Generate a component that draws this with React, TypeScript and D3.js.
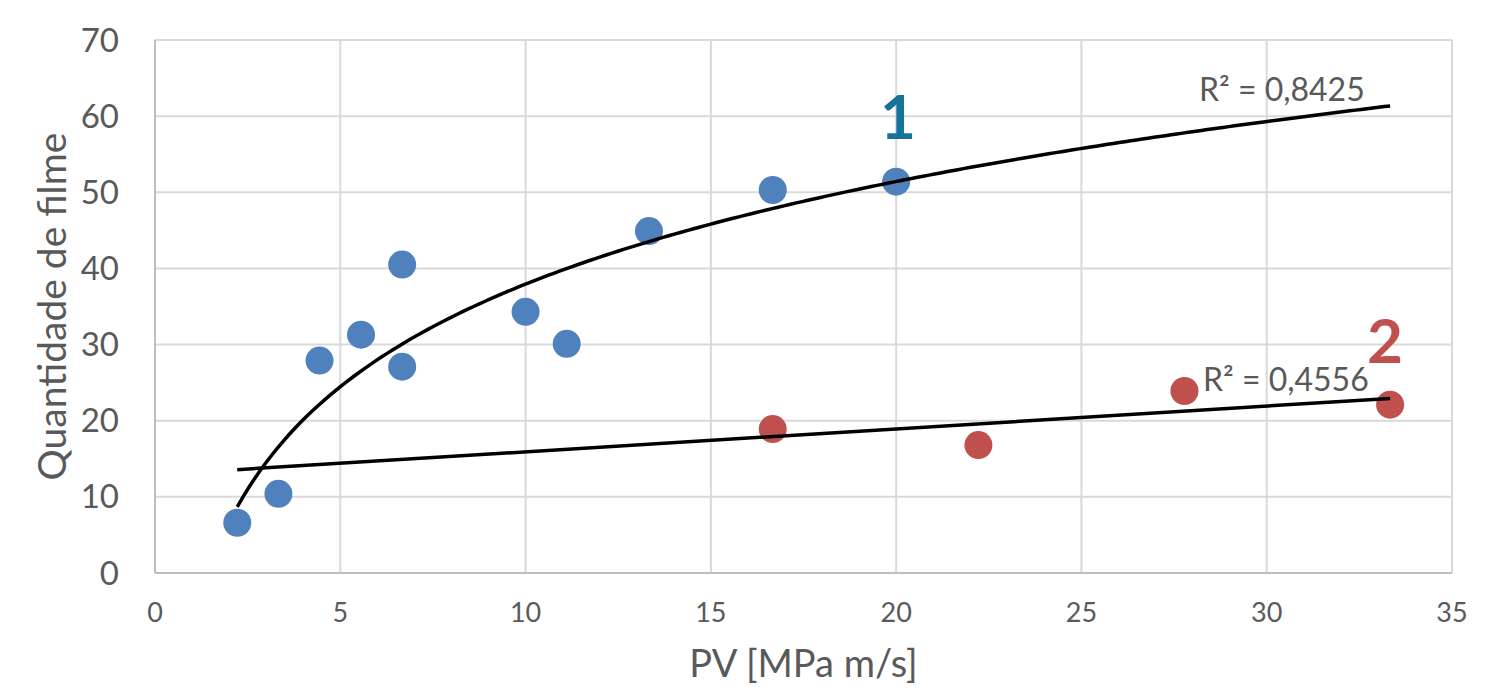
import React from 'react';
import * as d3 from 'd3';

// series 1 (blue) and series 2 (red)
const pvSerie1 = [2.22, 3.33, 4.44, 5.56, 6.67, 6.67, 10.0, 11.11, 13.33, 16.67, 20.0];
const filmeSerie1 = [6.6, 10.4, 27.9, 31.3, 40.5, 27.1, 34.3, 30.1, 44.9, 50.3, 51.4];
const pvSerie2 = [16.67, 22.22, 27.78, 33.33];
const filmeSerie2 = [18.9, 16.8, 23.9, 22.1];

const xTicks = [0, 5, 10, 15, 20, 25, 30, 35];
const yTicks = [0, 10, 20, 30, 40, 50, 60, 70];
const trendStart = 2.22;
const trendEnd = 33.33;
const r2Labels = ['R² = 0,8425', 'R² = 0,4556'];

const W = 1500, H = 690;
const margin = {top: 40, right: 48, bottom: 117, left: 155};

// least squares y = a*f(x) + b
function fit(xs: number[], ys: number[], f: (v: number) => number) {
    const t = xs.map(f);
    const mx = d3.mean(t)!, my = d3.mean(ys)!;
    let sxy = 0, sxx = 0;
    t.forEach((v, i) => { sxy += (v - mx) * (ys[i] - my); sxx += (v - mx) * (v - mx); });
    const a = sxy / sxx;
    const b = my - a * mx;
    return (x: number) => a * f(x) + b;
}

export default function App() {
    const x = d3.scaleLinear().domain([0, 35]).range([margin.left, W - margin.right]);
    const y = d3.scaleLinear().domain([0, 70]).range([H - margin.bottom, margin.top]);

    const logFit = fit(pvSerie1, filmeSerie1, Math.log);
    const linFit = fit(pvSerie2, filmeSerie2, v => v);

    const samples = d3.range(0, 201).map(i => trendStart + (trendEnd - trendStart) * i / 200);
    const line = d3.line<number>().x(d => x(d[0])).y(d => y(d[1]));
    const logPath = line(samples.map(s => [s, logFit(s)]) as any);
    const linPath = line([[trendStart, linFit(trendStart)], [trendEnd, linFit(trendEnd)]] as any);

    const font = 'Lato, "Open Sans", sans-serif';
    const grey = '#595959';

    return (
        <svg width={W} height={H} style={{position: 'absolute', left: 0, top: 0, background: '#fff'}}
             fontFamily={font}>
            <g>
                {xTicks.slice(1).map(t => (
                    <line key={'gx' + t} x1={x(t)} x2={x(t)} y1={y(0)} y2={y(70)} stroke="#d9d9d9" strokeWidth={2}/>
                ))}
                {yTicks.slice(1).map(t => (
                    <line key={'gy' + t} x1={x(0)} x2={x(35)} y1={y(t)} y2={y(t)} stroke="#d9d9d9" strokeWidth={2}/>
                ))}
                <line x1={x(0)} x2={x(0)} y1={y(0)} y2={y(70)} stroke="#bfbfbf" strokeWidth={2}/>
                <line x1={x(0)} x2={x(35)} y1={y(0)} y2={y(0)} stroke="#bfbfbf" strokeWidth={2}/>
            </g>
            <g fill={grey}>
                {yTicks.map(t => (
                    <text key={'ty' + t} x={119} y={y(t)} dy="0.35em" textAnchor="end" fontSize={33}>{t}</text>
                ))}
                {xTicks.map(t => (
                    <text key={'tx' + t} x={x(t)} y={613} dy="0.35em" textAnchor="middle" fontSize={27}>{t}</text>
                ))}
                <text transform={`translate(52, ${(y(0) + y(70)) / 2}) rotate(-90)`} textAnchor="middle"
                      dy="0.35em" fontSize={39}>Quantidade de filme</text>
                <text x={(x(0) + x(35)) / 2} y={664} textAnchor="middle" dy="0.35em" fontSize={38}>PV [MPa m/s]</text>
            </g>
            <g>
                {pvSerie1.map((v, i) => (
                    <circle key={'b' + i} cx={x(v)} cy={y(filmeSerie1[i])} r={14} fill="#4f81bd"/>
                ))}
                {pvSerie2.map((v, i) => (
                    <circle key={'r' + i} cx={x(v)} cy={y(filmeSerie2[i])} r={14} fill="#c0504d"/>
                ))}
            </g>
            <path d={logPath!} fill="none" stroke="#000" strokeWidth={3.5}/>
            <path d={linPath!} fill="none" stroke="#000" strokeWidth={3.5}/>
            <g fill={grey} fontSize={32}>
                <text x={1199} y={101}>{r2Labels[0]}</text>
                <text x={1203} y={391}>{r2Labels[1]}</text>
            </g>
            <text x={898} y={139} textAnchor="middle" fontSize={62} fontWeight="bold" fill="#17739b">1</text>
            <text x={1385} y={363} textAnchor="middle" fontSize={62} fontWeight="bold" fill="#c0504d">2</text>
        </svg>
    );
}
